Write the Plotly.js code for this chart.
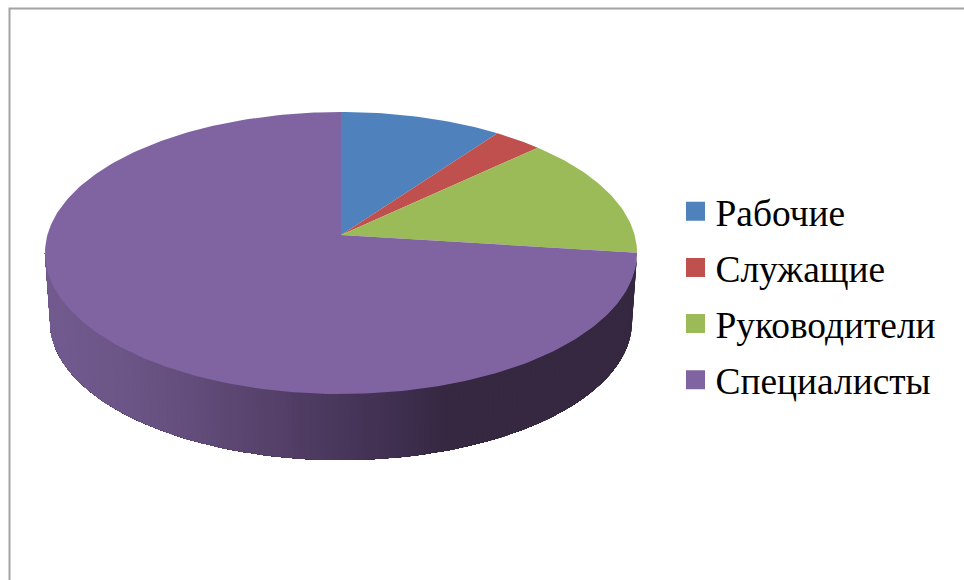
<!DOCTYPE html>
<html>
<head>
<meta charset="utf-8">
<script src="https://cdn.plot.ly/plotly-3.0.1.min.js"></script>
<style>html,body{margin:0;padding:0;background:#fff}</style>
</head>
<body>
<div id="chart" style="width:964px;height:580px"></div>
<script>
// Staff structure, percent of total
const categories = ['Рабочие', 'Служащие', 'Руководители', 'Специалисты'];
const shares = [10, 3, 14, 73];
const sliceColors = ['#4f81bd', '#c0504d', '#9bbb59', '#8064a2'];

// Side wall shading, left to right across the plot
const wallStopX = [45, 130, 200, 260, 340, 400, 450, 640];
const wallStopRGB = [
  [114, 91, 143], [107, 85, 134], [97, 76, 122], [87, 67, 108],
  [74, 55, 92], [63, 47, 80], [54, 40, 65], [53, 40, 64]
];

// Perspective disc: apex, scale, foreshortening, wall drop and shrink
const apexX = 341, apexY = 235;
const scaleX = 293.6, scaleY = 138.7, tilt = 0.1277;
const wallDrop = 68.7, wallShrink = 0.983;

function project(deg, radius, bottom) {
  const t = deg * Math.PI / 180;
  const u = radius * Math.sin(t), v = radius * Math.cos(t);
  const w = 1 + tilt * v;
  const s = bottom ? wallShrink : 1;
  return [apexX + s * scaleX * u / w, apexY + (bottom ? wallDrop : 0) - s * scaleY * v / w];
}

function wallColor(x) {
  let i = 0;
  while (i < wallStopX.length - 2 && x > wallStopX[i + 1]) i++;
  const f = Math.min(1, Math.max(0, (x - wallStopX[i]) / (wallStopX[i + 1] - wallStopX[i])));
  const c = wallStopRGB[i].map((a, j) => Math.round(a + (wallStopRGB[i + 1][j] - a) * f));
  return `rgb(${c[0]},${c[1]},${c[2]})`;
}

const total = shares.reduce((a, b) => a + b, 0);
const traces = [];

// Angular limits of the wall part facing the viewer
const tangent = Math.acos(-tilt) * 180 / Math.PI;
const frontFrom = tangent, frontTo = 360 - tangent;

// Wall bands: each band runs to the far end of the arc and the next one paints
// over it, so neighbouring bands leave no seams
let cum = 0;
shares.forEach((value) => {
  const start = cum / total * 360, end = (cum + value) / total * 360;
  cum += value;
  const from = Math.max(start, frontFrom), to = Math.min(end, frontTo);
  for (let a = from; a < to; a += 1) {
    const upper = [], lower = [];
    for (let b = a; ; b = Math.min(b + 2, to)) {
      upper.push(project(b, 1, false));
      lower.unshift(project(b, 1, true));
      if (b >= to) break;
    }
    const p = upper.concat(lower, [upper[0]]);
    const col = wallColor(upper[0][0]);
    traces.push({
      type: 'scatter', mode: 'lines', fill: 'toself', fillcolor: col,
      x: p.map(q => q[0]), y: p.map(q => q[1]),
      line: {color: col, width: 0}, showlegend: false, hoverinfo: 'skip'
    });
  }
});

// Top faces
cum = 0;
shares.forEach((value, i) => {
  const start = cum / total * 360, end = (cum + value) / total * 360;
  cum += value;
  const xs = [project(0, 0, false)[0]], ys = [project(0, 0, false)[1]];
  const steps = Math.ceil(end - start);
  for (let n = 0; n <= steps; n++) {
    const q = project(start + (end - start) * n / steps, 1, false);
    xs.push(q[0]); ys.push(q[1]);
  }
  xs.push(xs[0]); ys.push(ys[0]);
  traces.push({
    type: 'scatter', mode: 'lines', fill: 'toself', fillcolor: sliceColors[i],
    x: xs, y: ys, line: {color: sliceColors[i], width: 0},
    name: categories[i], showlegend: false, hoverinfo: 'name'
  });
});

// Legend keys
categories.forEach((name, i) => {
  traces.push({
    type: 'scatter', mode: 'markers', x: [null], y: [null], name: name, legendgroup: name,
    marker: {symbol: 'square', size: 16, color: sliceColors[i], line: {color: sliceColors[i], width: 3}},
    hoverinfo: 'skip'
  });
});

const layout = {
  width: 964, height: 580,
  margin: {l: 0, r: 0, t: 0, b: 0},
  paper_bgcolor: '#ffffff', plot_bgcolor: '#ffffff',
  xaxis: {range: [0, 964], visible: false, fixedrange: true},
  yaxis: {range: [580, 0], visible: false, fixedrange: true},
  showlegend: true,
  legend: {
    x: 675.5 / 964, xanchor: 'left', y: 1 - 295.5 / 580, yanchor: 'middle',
    font: {family: '"Liberation Serif", serif', size: 37.4, color: '#000000'},
    tracegroupgap: 4.5, bgcolor: 'rgba(0,0,0,0)', itemclick: false, itemdoubleclick: false
  },
  shapes: [{
    type: 'path', path: 'M 9.5 580 L 9.5 8.5 L 964 8.5',
    line: {color: '#a3a3a3', width: 2}, layer: 'below'
  }]
};

Plotly.newPlot('chart', traces, layout, {displayModeBar: false});
</script>
</body>
</html>
